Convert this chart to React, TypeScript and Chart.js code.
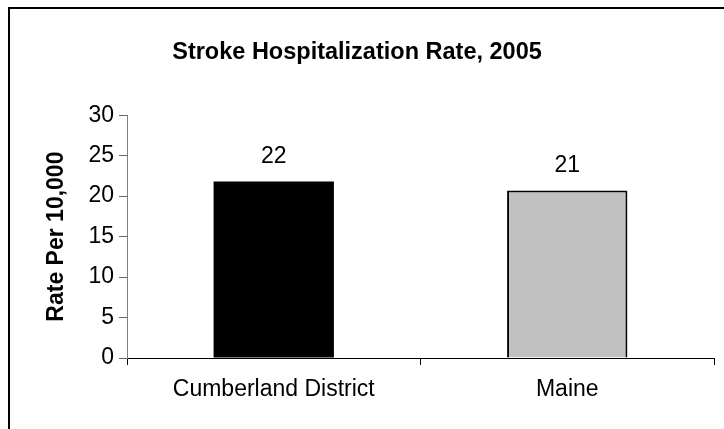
import React, { useEffect, useRef } from "react";
import { Chart, registerables } from "chart.js";

Chart.register(...registerables);

const categories = ["Cumberland District", "Maine"];
const rates = [21.8, 20.7];
const barColors = ["#000000", "#C0C0C0"];
const yTicks = [0, 5, 10, 15, 20, 25, 30];
const titleText = "Stroke Hospitalization Rate, 2005";
const yTitle = "Rate Per 10,000";

const FONT = "'Liberation Sans', Arial, sans-serif";
const FS = 23;

const dataLabels = {
  id: "dataLabels",
  afterDatasetsDraw(chart: any) {
    const ctx = chart.ctx;
    const meta = chart.getDatasetMeta(0);
    ctx.save();
    ctx.font = `${FS}px ${FONT}`;
    ctx.fillStyle = "#000";
    ctx.textAlign = "center";
    ctx.textBaseline = "middle";
    meta.data.forEach((el: any, i: number) => {
      const v = chart.data.datasets[0].data[i];
      ctx.fillText(String(Math.round(v)), el.x, el.y - 25);
    });
    ctx.restore();
  },
};

export default function App() {
  const ref = useRef<HTMLCanvasElement | null>(null);
  useEffect(() => {
    if (!ref.current) return;
    const chart = new Chart(ref.current, {
      type: "bar",
      data: {
        labels: categories,
        datasets: [
          {
            data: rates,
            backgroundColor: barColors,
            borderColor: ["#000000", "#000000"],
            borderWidth: [0, 2],
            categoryPercentage: 1,
            barPercentage: 0.41,
          },
        ],
      },
      options: {
        animation: false,
        responsive: false,
        devicePixelRatio: 1,
        layout: { padding: { left: 0, right: 10, top: 0, bottom: 0 } },
        plugins: {
          legend: { display: false },
          tooltip: { enabled: false },
          title: {
            display: true,
            text: titleText,
            color: "#000",
            font: { family: FONT, size: 23.5, weight: "bold" },
            padding: { top: 38, bottom: 49 },
          },
        },
        scales: {
          x: {
            afterFit: (s: any) => {
              s.height = 71;
            },
            grid: {
              drawOnChartArea: false,
              drawTicks: true,
              tickLength: 7,
              color: "#000",
              offset: true,
            },
            border: { color: "#000", width: 1 },
            ticks: {
              color: "#000",
              font: { family: FONT, size: FS },
              padding: 11,
              maxRotation: 0,
            },
          },
          y: {
            min: 0,
            max: 30,
            afterFit: (s: any) => {
              s.width = 127;
            },
            afterBuildTicks: (s: any) => {
              s.ticks = yTicks.map((v) => ({ value: v }));
            },
            grid: {
              drawOnChartArea: false,
              drawTicks: true,
              tickLength: 8,
              color: "#666",
            },
            border: { color: "#808080", width: 1 },
            ticks: {
              color: "#000",
              font: { family: FONT, size: FS },
              padding: 5,
            },
            title: {
              display: true,
              text: yTitle,
              color: "#000",
              font: { family: FONT, size: FS, weight: "bold" },
              padding: { top: 43, bottom: 0 },
            },
          },
        },
      },
      plugins: [dataLabels],
    } as any);
    return () => chart.destroy();
  }, []);
  return (
    <div>
      <canvas
        ref={ref}
        width={724}
        height={429}
        style={{ position: "fixed", left: 0, top: 0, width: 724, height: 429 }}
      />
      <div
        style={{
          position: "fixed",
          left: 8,
          top: 7,
          width: 800,
          height: 800,
          borderTop: "2px solid #000",
          borderLeft: "2px solid #000",
          pointerEvents: "none",
        }}
      />
    </div>
  );
}
